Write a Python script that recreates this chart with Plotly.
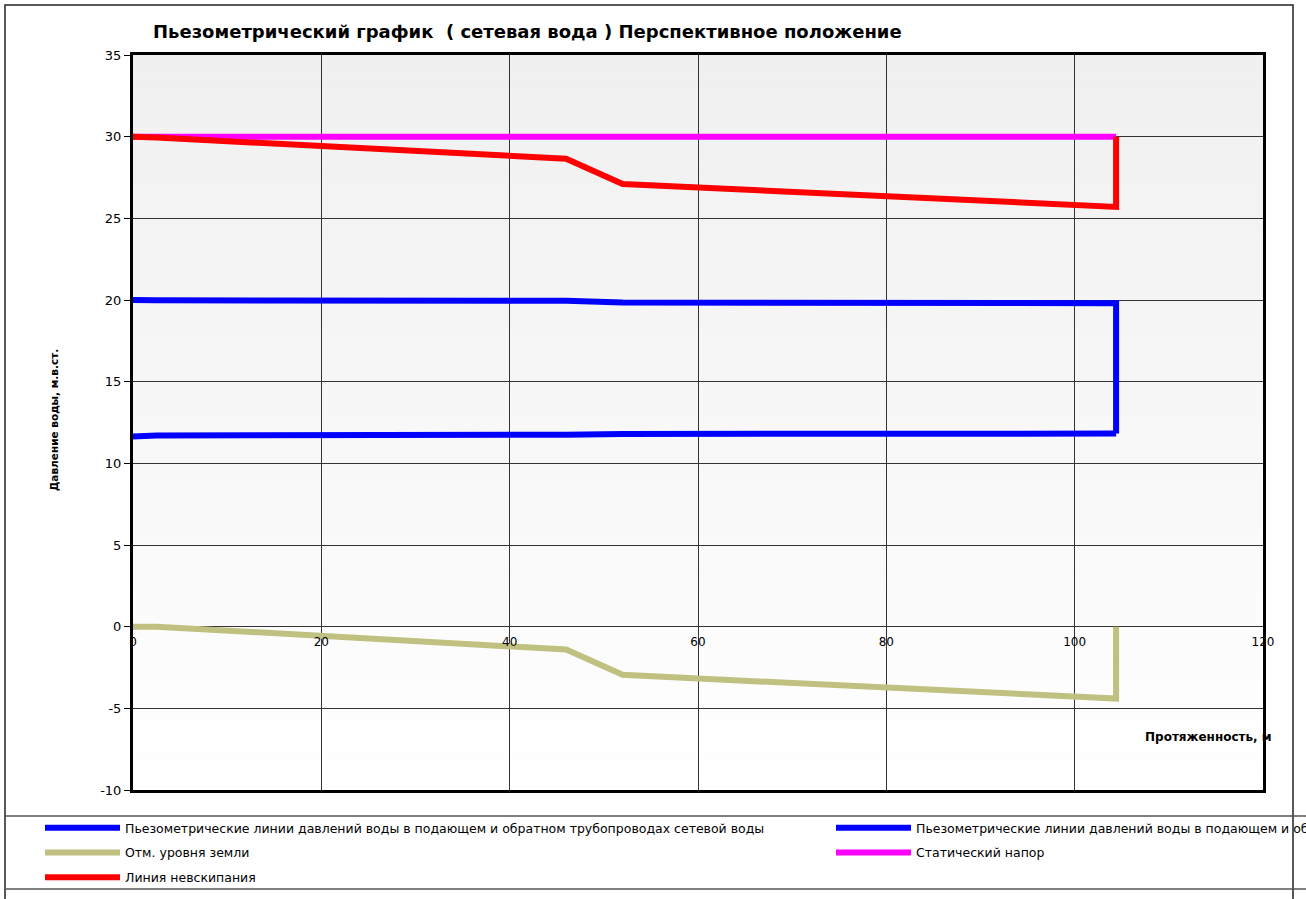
import plotly.graph_objects as go

# Data
supply_x = [0, 2.5, 46, 52, 104.4, 104.4]
supply_y = [20.0, 19.98, 19.95, 19.85, 19.8, 11.82]
return_x = [0, 2.5, 46, 52, 104.4]
return_y = [11.65, 11.7, 11.75, 11.8, 11.82]
ground_x = [0, 2.5, 46, 52, 104.4, 104.4]
ground_y = [0.0, 0.0, -1.4, -2.95, -4.4, 0.0]
static_x = [0, 104.4]
static_y = [30.0, 30.0]
boil_x = [0, 2.5, 46, 52, 104.4, 104.4]
boil_y = [30.0, 29.95, 28.65, 27.1, 25.7, 30.0]

legend_blue = "Пьезометрические линии давлений воды в подающем и обратном трубопроводах сетевой воды"
legend_ground = "Отм. уровня земли"
legend_static = "Статический напор"
legend_boil = "Линия невскипания"
title = "Пьезометрический график  ( сетевая вода ) Перспективное положение"
x_title = "Протяженность, м"
y_title = "Давление воды, м.в.ст."

x_ticks = [0, 20, 40, 60, 80, 100, 120]
y_ticks = [-10, -5, 0, 5, 10, 15, 20, 25, 30, 35]
y_tick_text = ["-10", "-5", "0", "5", "10", "15", "20", "25", "30", "35"]

FONT = "DejaVu Sans, Verdana, sans-serif"
LW = 6
W, H = 1306, 899
L, R, T, B = 133, 1263, 55, 790  # plot area in page pixels


def px(xp):
    return (xp - L) / (R - L)


def py(yp):
    return (B - yp) / (B - T)


fig = go.Figure()
fig.add_trace(go.Scatter(x=supply_x, y=supply_y, mode="lines", name=legend_blue,
                         legend="legend", legendgroup="a",
                         line=dict(color="#0000ff", width=LW)))
fig.add_trace(go.Scatter(x=return_x, y=return_y, mode="lines", name=legend_blue,
                         legend="legend2", legendgroup="b",
                         line=dict(color="#0000ff", width=LW)))
fig.add_trace(go.Scatter(x=ground_x, y=ground_y, mode="lines", name=legend_ground,
                         legend="legend", legendgroup="c",
                         line=dict(color="#c0c080", width=LW), xaxis="x2"))
fig.add_trace(go.Scatter(x=static_x, y=static_y, mode="lines", name=legend_static,
                         legend="legend2", legendgroup="d",
                         line=dict(color="#ff00ff", width=LW)))
fig.add_trace(go.Scatter(x=boil_x, y=boil_y, mode="lines", name=legend_boil,
                         legend="legend", legendgroup="e",
                         line=dict(color="#ff0000", width=LW)))

shapes = []
# gradient background bands
N = 40
for i in range(N):
    t = i / N
    c = int(round(240 + 15 * t))
    shapes.append(dict(type="rect", xref="x domain", yref="y domain",
                       x0=0, x1=1, y0=1 - (i + 1) / N, y1=1 - i / N,
                       fillcolor=f"rgb({c},{c},{c})", line=dict(width=0), layer="below"))
# outer frame
shapes.append(dict(type="rect", xref="paper", yref="paper",
                   x0=px(5), x1=px(1293), y0=py(905), y1=py(5),
                   line=dict(color="#222222", width=1.5), layer="above"))
# legend box lines
for yy in [816, 889]:
    shapes.append(dict(type="line", xref="paper", yref="paper",
                       x0=px(5), x1=px(1310), y0=py(yy), y1=py(yy),
                       line=dict(color="#555555", width=1.5)))

leg_common = dict(orientation="v", xanchor="left", yanchor="top",
                  itemwidth=75, font=dict(size=12.5, family=FONT),
                  bgcolor="rgba(0,0,0,0)", tracegroupgap=5.5, traceorder="grouped")

fig.update_layout(
    width=W, height=H,
    margin=dict(l=L, r=W - R, t=T, b=H - B, autoexpand=False),
    paper_bgcolor="white", plot_bgcolor="#f8f8f8",
    font=dict(family=FONT, color="black"),
    showlegend=True,
    legend=dict(x=px(40), y=py(813), **leg_common),
    legend2=dict(x=px(831), y=py(813), **leg_common),
    xaxis=dict(range=[0, 120], tickvals=x_ticks, showticklabels=False,
               showgrid=True, gridcolor="#333333", gridwidth=1,
               showline=True, linecolor="black", linewidth=3, mirror=True,
               zeroline=False, ticks=""),
    xaxis2=dict(range=[0, 120], tickvals=x_ticks, overlaying="x", anchor="free",
                position=10 / 45, showgrid=False, showline=False, zeroline=False,
                ticks="", tickfont=dict(size=12, family=FONT), ticklabelstandoff=6),
    yaxis=dict(range=[-10, 35], tickvals=y_ticks, ticktext=y_tick_text,
               showgrid=True, gridcolor="#333333",
               gridwidth=1, showline=True, linecolor="black", linewidth=3, mirror=True,
               zeroline=False, ticks="outside", ticklen=6, tickcolor="black",
               tickfont=dict(size=13, family=FONT)),
    shapes=shapes,
    annotations=[
        dict(text=f"<b>{title}</b>", xref="paper", yref="paper", x=px(151), y=py(32),
             xanchor="left", yanchor="middle", showarrow=False, font=dict(size=18, family=FONT)),
        dict(text=f"<b>{x_title}</b>", xref="paper", yref="paper", x=px(1274), y=py(737),
             xanchor="right", yanchor="middle", showarrow=False, font=dict(size=12, family=FONT)),
        dict(text=f"<b>{y_title}</b>", xref="paper", yref="paper", x=px(54), y=py(420),
             xanchor="center", yanchor="middle", textangle=-90, showarrow=False,
             font=dict(size=10.5, family=FONT)),
    ],
)

fig.write_html("out.html", config={"displayModeBar": False},
               post_script="document.body.style.margin='0';document.body.style.overflow='hidden';")
